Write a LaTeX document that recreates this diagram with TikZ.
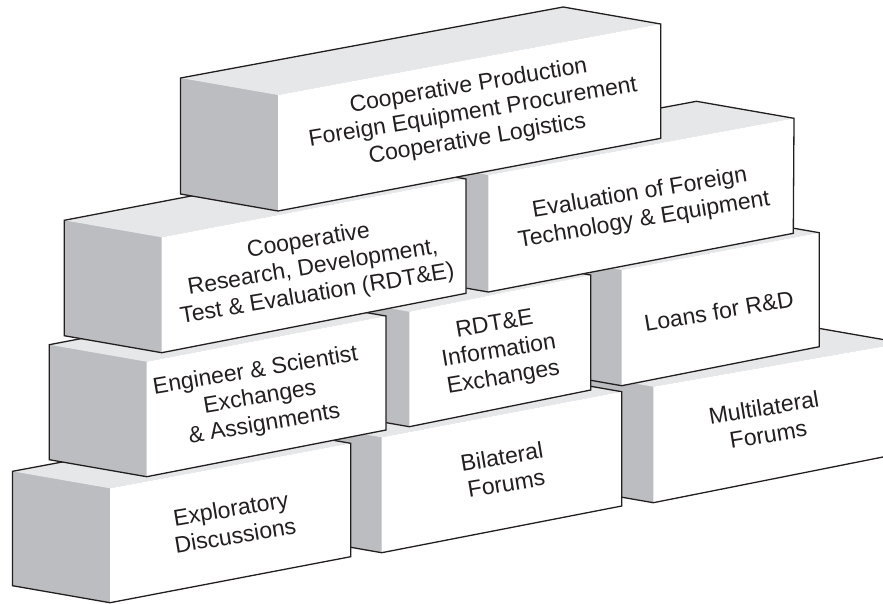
\documentclass[tikz,border=0pt]{standalone}
\usepackage{fontspec}
\setmainfont{Liberation Sans}
\usetikzlibrary{calc}
\definecolor{sidegray}{RGB}{188,189,192}
\definecolor{topgray}{RGB}{230,231,232}
\definecolor{ink}{RGB}{35,31,32}
\tikzset{
  brickline/.style={draw=ink, line width=1.3pt, line join=miter},
  bricklabel/.style={text=ink, align=center, rotate=9.5, inner sep=0pt,
    font=\fontsize{23}{27}\selectfont},
}
% #1 name, #2 front-left-top, #3 front-right-top, #4 front-right-bottom, #5 front-left-bottom
\newcommand\mybrick[5]{%
  \coordinate (#1-flt) at (#2);
  \coordinate (#1-frt) at (#3);
  \coordinate (#1-frb) at (#4);
  \coordinate (#1-flb) at (#5);
  \coordinate (#1-blt) at ($(#1-flt)+(-97.5,-17)$);
  \coordinate (#1-brt) at ($(#1-frt)+(-97.5,-17)$);
  \coordinate (#1-blb) at ($(#1-flb)+(-97.5,-17)$);
  \fill[sidegray] (#1-blt) -- (#1-brt) -- (#1-frt) -- (#1-frb) -- (#1-flb) -- (#1-blb) -- cycle;
  \fill[topgray] (#1-flt) -- (#1-frt) -- (#1-brt) -- (#1-blt) -- cycle;
  \fill[white] (#1-flt) -- (#1-frt) -- (#1-frb) -- (#1-flb) -- cycle;
  \draw[brickline] (#1-blt) -- (#1-brt) -- (#1-frt) -- (#1-frb) -- (#1-flb) -- (#1-blb) -- cycle;
}
\begin{document}
\begin{tikzpicture}[x=1pt, y=-1pt]
\useasboundingbox (0,0) rectangle (883,603);
\fill[white] (0,0) rectangle (883,603);
\clip (0,0) rectangle (883,603);
% bottom row (right to left)
\mybrick{I}{653.3,386.7}{903,343}{903,453}{653.3,502.7}
\node[bricklabel] (tI) at (766,421) {Multilateral\\Forums};
\mybrick{H}{381.7,437.3}{621.7,391.7}{621.7,506}{381.7,552.7}
\node[bricklabel] (tH) at (504,470) {Bilateral\\Forums};
\mybrick{G}{110,488.3}{350.7,443.3}{350.7,556.7}{110,602.7}
\node[bricklabel] (tG) at (233,522) {Exploratory\\Discussions};
% third row
\mybrick{F}{621.7,270}{819.3,232.7}{819.3,346.7}{621.7,385.7}
\node[bricklabel] (tF) at (719,311) {Loans for R\&D};
\mybrick{E}{409.3,311.7}{590.7,275}{590.7,390}{409.3,426.7}
\node[bricklabel] (tE) at (499,352) {RDT\&E\\Information\\Exchanges};
\mybrick{D}{146.7,361.7}{386,316}{386,430}{146.7,476.7}
\node[bricklabel] (tD) at (260,398) {Engineer \& Scientist\\Exchanges\\\& Assignments};
% second row
\mybrick{B}{488.3,175}{794,118.3}{793.3,233.3}{488.3,292}
\node[bricklabel] (tB) at (642,207) {Evaluation of Foreign\\Technology \& Equipment};
\mybrick{C}{161.7,237.3}{466,179}{466,293.3}{161.7,352.7}
\node[bricklabel] (tC) at (313,268) {Cooperative\\Research, Development,\\Test \& Evaluation (RDT\&E)};
% top row
\mybrick{A}{278,95}{660.7,24}{660.7,138.3}{278,211}
\node[bricklabel] (tA) at (473,113) {Cooperative Production\\Foreign Equipment Procurement\\Cooperative Logistics};
\end{tikzpicture}
\end{document}
